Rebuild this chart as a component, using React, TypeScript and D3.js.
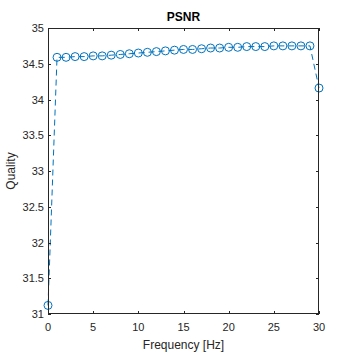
import * as d3 from "d3";
import { useEffect, useRef } from "react";

const freqs = d3.range(0, 31);
const quality = [
  31.12, 34.59, 34.59, 34.6, 34.6, 34.61, 34.61, 34.62, 34.63, 34.64, 34.65,
  34.66, 34.67, 34.68, 34.69, 34.7, 34.7, 34.71, 34.72, 34.72, 34.73, 34.73,
  34.74, 34.74, 34.74, 34.75, 34.75, 34.75, 34.75, 34.75, 34.16,
];
const xTicks = [0, 5, 10, 15, 20, 25, 30];
const yTicks = [31, 31.5, 32, 32.5, 33, 33.5, 34, 34.5, 35];

function App() {
  const ref = useRef<SVGSVGElement>(null);

  useEffect(() => {
    const svg = d3.select(ref.current);
    svg.selectAll("*").remove();

    const left = 48, right = 319, top = 28, bottom = 314;
    const axisColor = "#262626";
    const blue = "#0072BD";
    const font = "'Liberation Sans', Arial, sans-serif";

    const x = d3.scaleLinear().domain([0, 30]).range([left, right]);
    const y = d3.scaleLinear().domain([31, 35]).range([bottom, top]);

    const g = svg.append("g");

    g.append("rect").attr("x", left).attr("y", top)
      .attr("width", right - left).attr("height", bottom - top)
      .attr("fill", "white");

    // dashed line with open circle markers
    const line = d3.line<number>().x((d, i) => x(freqs[i])).y(d => y(d));
    g.append("path").attr("d", line(quality)!)
      .attr("fill", "none").attr("stroke", blue).attr("stroke-width", 1)
      .attr("stroke-dasharray", "6,4");

    g.selectAll(".pt").data(quality).join("circle").attr("class", "pt")
      .attr("cx", (d, i) => x(freqs[i])).attr("cy", d => y(d)).attr("r", 4)
      .attr("fill", "none").attr("stroke", blue).attr("stroke-width", 1);

    // box
    g.append("rect").attr("x", left + 0.5).attr("y", top + 0.5)
      .attr("width", right - left - 1).attr("height", bottom - top - 1)
      .attr("fill", "none").attr("stroke", axisColor).attr("stroke-width", 1);

    const tl = 3;
    xTicks.forEach(t => {
      const px = Math.round(x(t)) + 0.5;
      g.append("line").attr("x1", px).attr("x2", px).attr("y1", bottom).attr("y2", bottom - tl).attr("stroke", axisColor);
      g.append("line").attr("x1", px).attr("x2", px).attr("y1", top).attr("y2", top + tl).attr("stroke", axisColor);
      g.append("text").attr("x", x(t)).attr("y", bottom + 17).attr("text-anchor", "middle")
        .attr("font-family", font).attr("font-size", 11).attr("fill", axisColor).text(t);
    });
    yTicks.forEach(t => {
      const py = Math.round(y(t)) + 0.5;
      g.append("line").attr("x1", left).attr("x2", left + tl).attr("y1", py).attr("y2", py).attr("stroke", axisColor);
      g.append("line").attr("x1", right).attr("x2", right - tl).attr("y1", py).attr("y2", py).attr("stroke", axisColor);
      g.append("text").attr("x", left - 4).attr("y", y(t) + 4).attr("text-anchor", "end")
        .attr("font-family", font).attr("font-size", 11).attr("fill", axisColor).text(String(t));
    });

    g.append("text").attr("x", (left + right) / 2).attr("y", 21).attr("text-anchor", "middle")
      .attr("font-family", font).attr("font-size", 12).attr("font-weight", "bold").attr("fill", "black").text("PSNR");
    g.append("text").attr("x", (left + right) / 2).attr("y", 349).attr("text-anchor", "middle")
      .attr("font-family", font).attr("font-size", 12).attr("fill", axisColor).text("Frequency [Hz]");
    g.append("text").attr("transform", `translate(15, ${(top + bottom) / 2}) rotate(-90)`).attr("text-anchor", "middle")
      .attr("font-family", font).attr("font-size", 12).attr("fill", axisColor).text("Quality");
  }, []);

  return (
    <svg ref={ref} width={354} height={354}
      style={{ position: "absolute", left: 0, top: 0, background: "white" }} />
  );
}

export default App;
